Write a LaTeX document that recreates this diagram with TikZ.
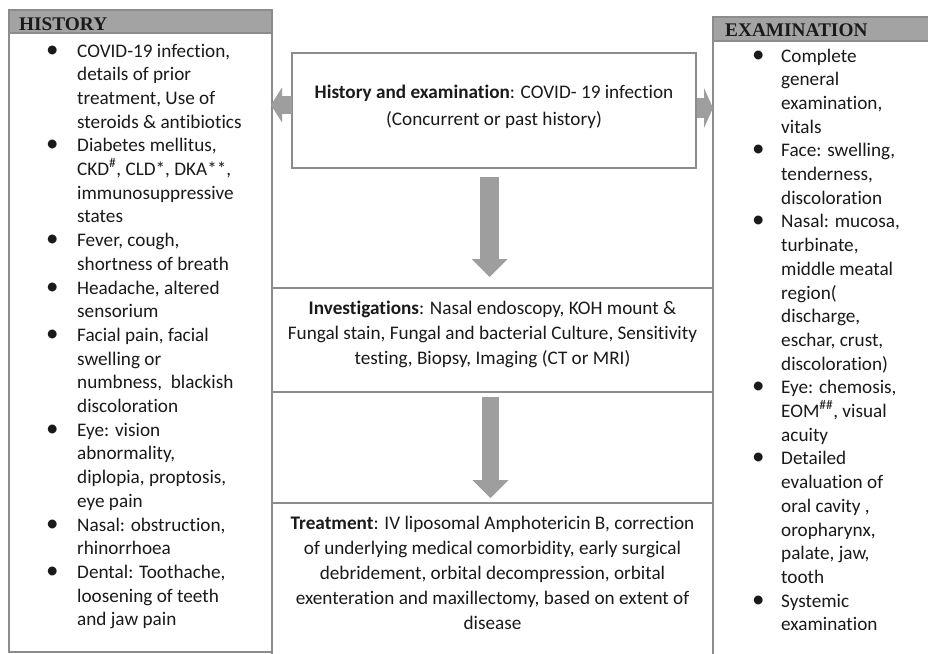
\documentclass[tikz,border=0pt]{standalone}
\usepackage{graphicx}
\usepackage{fontspec}
\setmainfont[Ligatures={NoCommon,NoContextual}]{Carlito}
\newfontfamily\hdrfont{Liberation Serif}
\usetikzlibrary{arrows.meta}
\definecolor{boxline}{HTML}{8C8C8C}
\definecolor{hdrfill}{HTML}{A3A3A3}
\definecolor{arrowfill}{HTML}{9E9E9E}
\definecolor{txt}{HTML}{1A1A1A}
\newcommand{\bigbul}{\scalebox{1.3}{\textbullet}}
\newcommand{\hbul}{\makebox[31pt][l]{\bigbul}}
\newcommand{\hind}{\hspace*{31pt}}
\newcommand{\ebul}{\makebox[29pt][l]{\bigbul}}
\newcommand{\eind}{\hspace*{29pt}}
\begin{document}
\begin{tikzpicture}[x=1pt,y=-1pt,
  frame/.style={draw=boxline, line width=1.2pt, fill=white, inner sep=0pt, outer sep=0pt, anchor=north west},
  hdr/.style={draw=boxline, line width=1.2pt, fill=hdrfill, inner sep=0pt, outer sep=0pt, anchor=north west},
  hdrtext/.style={font=\hdrfont\bfseries\fontsize{19.3}{22}\selectfont, text=txt, anchor=base west, inner sep=0pt},
  listtext/.style={font=\fontsize{19.2}{23.7}\selectfont, text=txt, anchor=base west, inner sep=0pt},
  boxtext/.style={text=txt, anchor=base, inner sep=0pt},
  fatarrow/.style={draw=arrowfill, line cap=butt}
]
\useasboundingbox (0,0) rectangle (928,653);
\clip (0,0) rectangle (928,653);
\fill[white] (0,0) rectangle (928,653);

% side boxes
\node[frame, minimum width=263pt, minimum height=642pt] (hist) at (9,10) {};
\node[hdr, minimum width=263pt, minimum height=23pt] (histhdr) at (9,10) {};
\node[hdrtext] (histhdrtext) at (19,30) {HISTORY};

\node[frame, minimum width=230pt, minimum height=660pt] (exam) at (713,17) {};
\node[hdr, minimum width=230pt, minimum height=24pt] (examhdr) at (713,17) {};
\node[hdrtext] (examhdrtext) at (725,36) {EXAMINATION};

% central boxes
\node[frame, minimum width=404pt, minimum height=115pt] (top) at (292,53) {};
\node[frame, minimum width=441pt, minimum height=104pt] (inv) at (272,288) {};
\node[frame, minimum width=441pt, minimum height=170pt] (treat) at (272,503) {};

% texts
\node[listtext] (histlist) at (46,57) {\begin{tabular}[t]{@{}l@{}}
\hbul COVID-19 infection,\\
\hind details of prior\\
\hind treatment, Use of\\
\hind steroids \& antibiotics\\
\hbul Diabetes mellitus,\\
\hind CKD\textsuperscript{\#}, CLD*, DKA**,\\
\hind immunosuppressive\\
\hind states\\
\hbul Fever, cough,\\
\hind shortness of breath\\
\hbul Headache, altered\\
\hind sensorium\\
\hbul Facial pain, facial\\
\hind swelling or\\
\hind numbness,\ \ blackish\\
\hind discoloration\\
\hbul Eye: vision\\
\hind abnormality,\\
\hind diplopia, proptosis,\\
\hind eye pain\\
\hbul Nasal: obstruction,\\
\hind rhinorrhoea\\
\hbul Dental: Toothache,\\
\hind loosening of teeth\\
\hind and jaw pain
\end{tabular}};

\node[listtext] (examlist) at (752,62) {\begin{tabular}[t]{@{}l@{}}
\ebul Complete\\
\eind general\\
\eind examination,\\
\eind vitals\\
\ebul Face: swelling,\\
\eind tenderness,\\
\eind discoloration\\
\ebul Nasal: mucosa,\\
\eind turbinate,\\
\eind middle meatal\\
\eind region(\\
\eind discharge,\\
\eind eschar, crust,\\
\eind discoloration)\\
\ebul Eye: chemosis,\\
\eind EOM\textsuperscript{\#\#}, visual\\
\eind acuity\\
\ebul Detailed\\
\eind evaluation of\\
\eind oral cavity ,\\
\eind oropharynx,\\
\eind palate, jaw,\\
\eind tooth\\
\ebul Systemic\\
\eind examination
\end{tabular}};

\node[boxtext, font=\fontsize{19.2}{27}\selectfont] (toptext) at (494,98) {\begin{tabular}[t]{@{}c@{}}
\textbf{History and examination}: COVID- 19 infection\\
(Concurrent or past history)
\end{tabular}};

\node[boxtext, font=\fontsize{19.2}{25}\selectfont] (invtext) at (492.5,314) {\begin{tabular}[t]{@{}c@{}}
\textbf{Investigations}: Nasal endoscopy, KOH mount \&\\
Fungal stain, Fungal and bacterial Culture, Sensitivity\\
testing, Biopsy, Imaging (CT or MRI)
\end{tabular}};

\node[boxtext, font=\fontsize{19.2}{25}\selectfont] (treattext) at (492.5,529) {\begin{tabular}[t]{@{}c@{}}
\textbf{Treatment}: IV liposomal Amphotericin B, correction\\
of underlying medical comorbidity, early surgical\\
debridement, orbital decompression, orbital\\
exenteration and maxillectomy, based on extent of\\
disease
\end{tabular}};

% arrows
\coordinate (ly) at (0,105);
\coordinate (ry) at (0,108);
\draw[fatarrow, line width=19pt, -{Triangle[length=18pt,width=36pt,line width=0pt]}, shorten <=9pt, shorten >=11pt]
  ([xshift=-4.5pt]top.south) -- ([xshift=-4.5pt]top.south |- inv.north);
\draw[fatarrow, line width=17.5pt, -{Triangle[length=18pt,width=36pt,line width=0pt]}, shorten <=5pt, shorten >=5pt]
  ([xshift=-2pt]inv.south) -- ([xshift=-2pt]inv.south |- treat.north);
\draw[fatarrow, line width=18pt, -{Triangle[length=11pt,width=35pt,line width=0pt]}, shorten >=-1pt]
  (top.west |- ly) -- (hist.east |- ly);
\draw[fatarrow, line width=20pt, -{Triangle[length=9pt,width=40pt,line width=0pt]}, shorten <=1pt]
  (top.east |- ry) -- (exam.west |- ry);
\end{tikzpicture}
\end{document}
